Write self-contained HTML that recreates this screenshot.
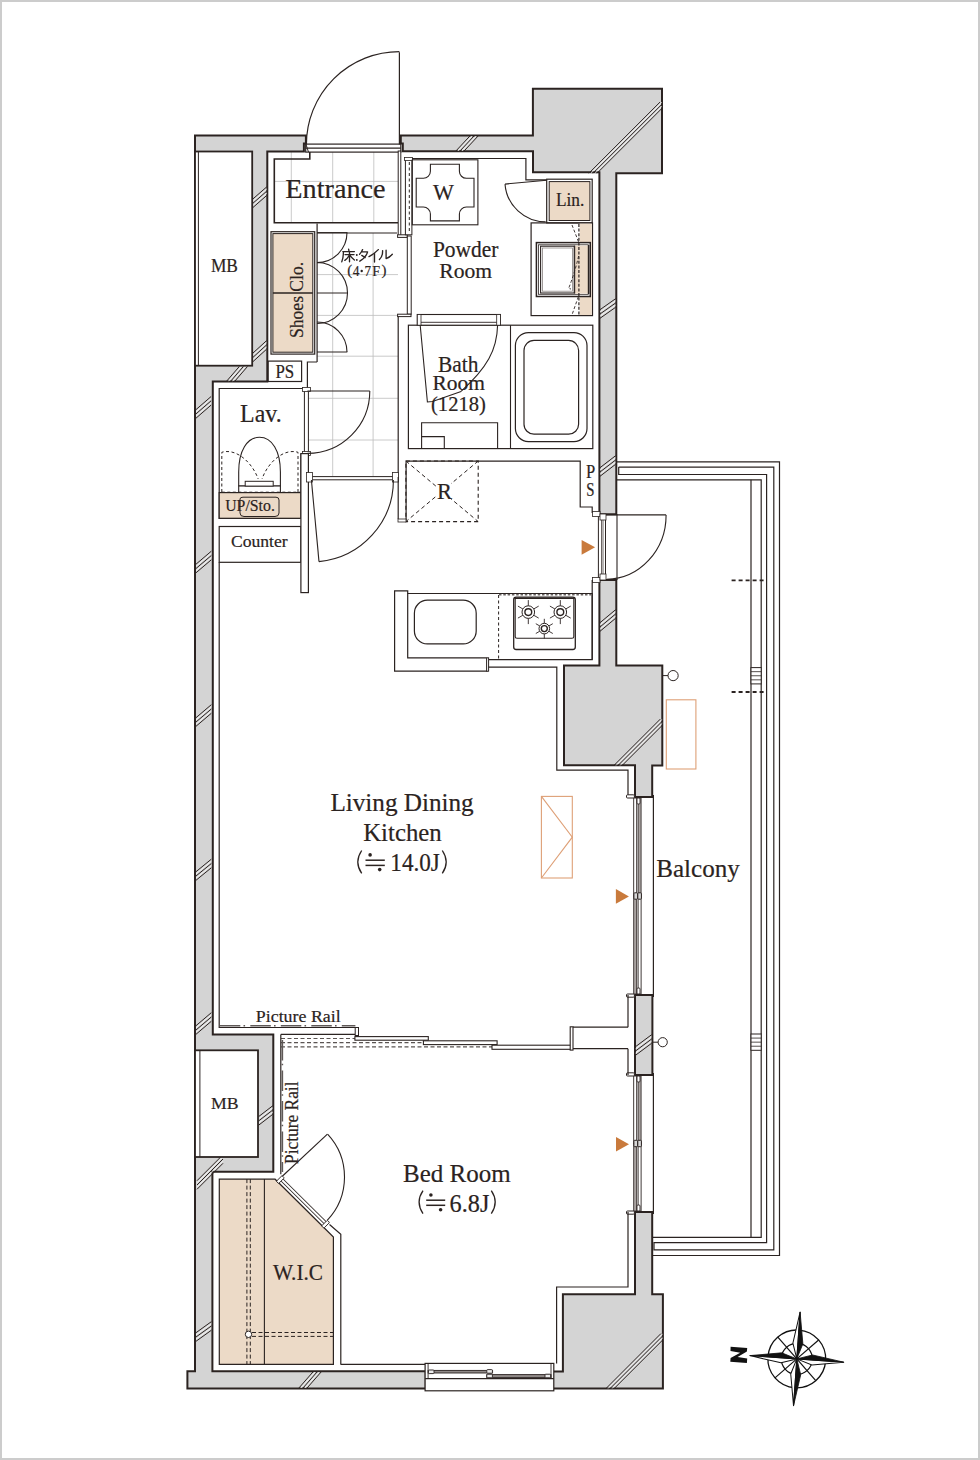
<!DOCTYPE html>
<html><head><meta charset="utf-8"><style>
html,body{margin:0;padding:0;background:#fff;}
body{width:980px;height:1460px;overflow:hidden;position:relative;font-family:"Liberation Serif",serif;}
svg{position:absolute;left:0;top:0;display:block;}
</style></head><body>
<svg width="980" height="1460" viewBox="0 0 980 1460">
<rect x="0" y="0" width="980" height="1460" fill="#ffffff"/>
<line x1="291.3" y1="152" x2="291.3" y2="222.8" stroke="#bdbdbd" stroke-width="0.8" />
<line x1="332.7" y1="152" x2="332.7" y2="222.8" stroke="#bdbdbd" stroke-width="0.8" />
<line x1="373.8" y1="152" x2="373.8" y2="222.8" stroke="#bdbdbd" stroke-width="0.8" />
<line x1="274" y1="181.4" x2="398" y2="181.4" stroke="#bdbdbd" stroke-width="0.8" />
<line x1="332.7" y1="233" x2="332.7" y2="477" stroke="#bdbdbd" stroke-width="0.8" />
<line x1="373.1" y1="233" x2="373.1" y2="477" stroke="#bdbdbd" stroke-width="0.8" />
<line x1="317" y1="274.6" x2="398" y2="274.6" stroke="#bdbdbd" stroke-width="0.8" />
<line x1="317" y1="315.4" x2="398" y2="315.4" stroke="#bdbdbd" stroke-width="0.8" />
<line x1="317" y1="356.2" x2="398" y2="356.2" stroke="#bdbdbd" stroke-width="0.8" />
<line x1="308" y1="398.3" x2="398" y2="398.3" stroke="#bdbdbd" stroke-width="0.8" />
<line x1="308" y1="440" x2="398" y2="440" stroke="#bdbdbd" stroke-width="0.8" />
<path d="M195,135.5 H305.9 V143.5 H303.9 V151.5 H267.3 V381.6 H212.8 V1034.5 H273.3 V1171.8 H212.4 V1371.2 H425.7 V1388.6 H187.4 V1371.2 H195 Z" fill="#d4d4d4" stroke="#2b2321" stroke-width="2.0" stroke-linejoin="miter"/>
<path d="M400.8,135.5 H532.9 V88.8 H662 V173.2 H616.3 V514.3 H599.4 V172.2 H533 V151.3 H402.8 V143.5 H400.8 Z" fill="#d4d4d4" stroke="#2b2321" stroke-width="2.0" stroke-linejoin="miter"/>
<path d="M599.4,580 H616.3 V665.5 H662.3 V765.5 H652.2 V797 H635 V765.2 H564 V665.5 H599.4 Z" fill="#d4d4d4" stroke="#2b2321" stroke-width="2.0" stroke-linejoin="miter"/>
<path d="M635,995 H652.4 V1075 H635 Z" fill="#d4d4d4" stroke="#2b2321" stroke-width="2.0" stroke-linejoin="miter"/>
<path d="M635,1212 H652.2 V1294.3 H662.9 V1388.6 H552.9 V1371.4 H562.9 V1294.3 H635 Z" fill="#d4d4d4" stroke="#2b2321" stroke-width="2.0" stroke-linejoin="miter"/>
<line x1="252.4" y1="199.4" x2="266.8" y2="186.8" stroke="#2b2321" stroke-width="1.0" />
<line x1="252.4" y1="203.7" x2="266.8" y2="191.1" stroke="#2b2321" stroke-width="1.0" />
<line x1="252.4" y1="208" x2="266.8" y2="195.4" stroke="#2b2321" stroke-width="1.0" />
<line x1="252.4" y1="201.55" x2="266.8" y2="188.95" stroke="#ffffff" stroke-width="0.7" />
<line x1="252.4" y1="205.85" x2="266.8" y2="193.25" stroke="#ffffff" stroke-width="0.7" />
<line x1="226.6" y1="381.2" x2="239.3" y2="366.5" stroke="#2b2321" stroke-width="1.0" />
<line x1="230.7" y1="381.2" x2="243.4" y2="366.5" stroke="#2b2321" stroke-width="1.0" />
<line x1="234.8" y1="381.2" x2="247.5" y2="366.5" stroke="#2b2321" stroke-width="1.0" />
<line x1="228.65" y1="381.2" x2="241.35" y2="366.5" stroke="#ffffff" stroke-width="0.7" />
<line x1="232.75" y1="381.2" x2="245.45" y2="366.5" stroke="#ffffff" stroke-width="0.7" />
<line x1="196" y1="409.6" x2="211.1" y2="396.5" stroke="#2b2321" stroke-width="1.0" />
<line x1="196" y1="413.9" x2="211.1" y2="400.8" stroke="#2b2321" stroke-width="1.0" />
<line x1="196" y1="418.2" x2="211.1" y2="405.1" stroke="#2b2321" stroke-width="1.0" />
<line x1="196" y1="411.75" x2="211.1" y2="398.65" stroke="#ffffff" stroke-width="0.7" />
<line x1="196" y1="416.05" x2="211.1" y2="402.95" stroke="#ffffff" stroke-width="0.7" />
<line x1="196" y1="564.2" x2="211.3" y2="551.2" stroke="#2b2321" stroke-width="1.0" />
<line x1="196" y1="568.5" x2="211.3" y2="555.5" stroke="#2b2321" stroke-width="1.0" />
<line x1="196" y1="572.8" x2="211.3" y2="559.8" stroke="#2b2321" stroke-width="1.0" />
<line x1="196" y1="566.35" x2="211.3" y2="553.35" stroke="#ffffff" stroke-width="0.7" />
<line x1="196" y1="570.65" x2="211.3" y2="557.65" stroke="#ffffff" stroke-width="0.7" />
<line x1="196" y1="717.7" x2="211.3" y2="704.7" stroke="#2b2321" stroke-width="1.0" />
<line x1="196" y1="722" x2="211.3" y2="709" stroke="#2b2321" stroke-width="1.0" />
<line x1="196" y1="726.3" x2="211.3" y2="713.3" stroke="#2b2321" stroke-width="1.0" />
<line x1="196" y1="719.85" x2="211.3" y2="706.85" stroke="#ffffff" stroke-width="0.7" />
<line x1="196" y1="724.15" x2="211.3" y2="711.15" stroke="#ffffff" stroke-width="0.7" />
<line x1="196" y1="1025.7" x2="211.3" y2="1012.7" stroke="#2b2321" stroke-width="1.0" />
<line x1="196" y1="1030" x2="211.3" y2="1017" stroke="#2b2321" stroke-width="1.0" />
<line x1="196" y1="1034.3" x2="211.3" y2="1021.3" stroke="#2b2321" stroke-width="1.0" />
<line x1="196" y1="1027.85" x2="211.3" y2="1014.85" stroke="#ffffff" stroke-width="0.7" />
<line x1="196" y1="1032.15" x2="211.3" y2="1019.15" stroke="#ffffff" stroke-width="0.7" />
<line x1="196" y1="871.7" x2="211.3" y2="859.2" stroke="#2b2321" stroke-width="1.0" />
<line x1="196" y1="876" x2="211.3" y2="863.5" stroke="#2b2321" stroke-width="1.0" />
<line x1="196" y1="880.3" x2="211.3" y2="867.8" stroke="#2b2321" stroke-width="1.0" />
<line x1="196" y1="873.85" x2="211.3" y2="861.35" stroke="#ffffff" stroke-width="0.7" />
<line x1="196" y1="878.15" x2="211.3" y2="865.65" stroke="#ffffff" stroke-width="0.7" />
<line x1="252.7" y1="353.3" x2="266.6" y2="340.6" stroke="#2b2321" stroke-width="1.0" />
<line x1="252.7" y1="357.6" x2="266.6" y2="344.9" stroke="#2b2321" stroke-width="1.0" />
<line x1="252.7" y1="361.9" x2="266.6" y2="349.2" stroke="#2b2321" stroke-width="1.0" />
<line x1="252.7" y1="355.45" x2="266.6" y2="342.75" stroke="#ffffff" stroke-width="0.7" />
<line x1="252.7" y1="359.75" x2="266.6" y2="347.05" stroke="#ffffff" stroke-width="0.7" />
<line x1="258.5" y1="1116.7" x2="272.8" y2="1105.7" stroke="#2b2321" stroke-width="1.0" />
<line x1="258.5" y1="1121" x2="272.8" y2="1110" stroke="#2b2321" stroke-width="1.0" />
<line x1="258.5" y1="1125.3" x2="272.8" y2="1114.3" stroke="#2b2321" stroke-width="1.0" />
<line x1="258.5" y1="1118.85" x2="272.8" y2="1107.85" stroke="#ffffff" stroke-width="0.7" />
<line x1="258.5" y1="1123.15" x2="272.8" y2="1112.15" stroke="#ffffff" stroke-width="0.7" />
<line x1="197" y1="1180.7" x2="223" y2="1154.7" stroke="#2b2321" stroke-width="1.0" />
<line x1="197" y1="1185" x2="223" y2="1159" stroke="#2b2321" stroke-width="1.0" />
<line x1="197" y1="1189.3" x2="223" y2="1163.3" stroke="#2b2321" stroke-width="1.0" />
<line x1="197" y1="1182.85" x2="223" y2="1156.85" stroke="#ffffff" stroke-width="0.7" />
<line x1="197" y1="1187.15" x2="223" y2="1161.15" stroke="#ffffff" stroke-width="0.7" />
<line x1="196" y1="1332.7" x2="211.3" y2="1321.7" stroke="#2b2321" stroke-width="1.0" />
<line x1="196" y1="1337" x2="211.3" y2="1326" stroke="#2b2321" stroke-width="1.0" />
<line x1="196" y1="1341.3" x2="211.3" y2="1330.3" stroke="#2b2321" stroke-width="1.0" />
<line x1="196" y1="1334.85" x2="211.3" y2="1323.85" stroke="#ffffff" stroke-width="0.7" />
<line x1="196" y1="1339.15" x2="211.3" y2="1328.15" stroke="#ffffff" stroke-width="0.7" />
<line x1="298.9" y1="1388" x2="312.9" y2="1372" stroke="#2b2321" stroke-width="1.0" />
<line x1="303" y1="1388" x2="317" y2="1372" stroke="#2b2321" stroke-width="1.0" />
<line x1="307.1" y1="1388" x2="321.1" y2="1372" stroke="#2b2321" stroke-width="1.0" />
<line x1="300.95" y1="1388" x2="314.95" y2="1372" stroke="#ffffff" stroke-width="0.7" />
<line x1="305.05" y1="1388" x2="319.05" y2="1372" stroke="#ffffff" stroke-width="0.7" />
<line x1="455.9" y1="151" x2="469.9" y2="136" stroke="#2b2321" stroke-width="1.0" />
<line x1="460" y1="151" x2="474" y2="136" stroke="#2b2321" stroke-width="1.0" />
<line x1="464.1" y1="151" x2="478.1" y2="136" stroke="#2b2321" stroke-width="1.0" />
<line x1="457.95" y1="151" x2="471.95" y2="136" stroke="#ffffff" stroke-width="0.7" />
<line x1="462.05" y1="151" x2="476.05" y2="136" stroke="#ffffff" stroke-width="0.7" />
<clipPath id="hc1"><rect x="533" y="88.8" width="129" height="84.4"/></clipPath><g clip-path="url(#hc1)">
<line x1="587.78" y1="174.32" x2="660.02" y2="102.08" stroke="#2b2321" stroke-width="1.0" />
<line x1="591.88" y1="174.32" x2="664.12" y2="102.08" stroke="#2b2321" stroke-width="1.0" />
<line x1="595.98" y1="174.32" x2="668.22" y2="102.08" stroke="#2b2321" stroke-width="1.0" />
<line x1="589.83" y1="174.32" x2="662.07" y2="102.08" stroke="#ffffff" stroke-width="0.7" />
<line x1="593.93" y1="174.32" x2="666.17" y2="102.08" stroke="#ffffff" stroke-width="0.7" />
</g>
<line x1="600" y1="309.7" x2="615.6" y2="298.7" stroke="#2b2321" stroke-width="1.0" />
<line x1="600" y1="314" x2="615.6" y2="303" stroke="#2b2321" stroke-width="1.0" />
<line x1="600" y1="318.3" x2="615.6" y2="307.3" stroke="#2b2321" stroke-width="1.0" />
<line x1="600" y1="311.85" x2="615.6" y2="300.85" stroke="#ffffff" stroke-width="0.7" />
<line x1="600" y1="316.15" x2="615.6" y2="305.15" stroke="#ffffff" stroke-width="0.7" />
<line x1="600" y1="467.7" x2="615.6" y2="455.7" stroke="#2b2321" stroke-width="1.0" />
<line x1="600" y1="472" x2="615.6" y2="460" stroke="#2b2321" stroke-width="1.0" />
<line x1="600" y1="476.3" x2="615.6" y2="464.3" stroke="#2b2321" stroke-width="1.0" />
<line x1="600" y1="469.85" x2="615.6" y2="457.85" stroke="#ffffff" stroke-width="0.7" />
<line x1="600" y1="474.15" x2="615.6" y2="462.15" stroke="#ffffff" stroke-width="0.7" />
<line x1="600" y1="622.7" x2="615.6" y2="609.7" stroke="#2b2321" stroke-width="1.0" />
<line x1="600" y1="627" x2="615.6" y2="614" stroke="#2b2321" stroke-width="1.0" />
<line x1="600" y1="631.3" x2="615.6" y2="618.3" stroke="#2b2321" stroke-width="1.0" />
<line x1="600" y1="624.85" x2="615.6" y2="611.85" stroke="#ffffff" stroke-width="0.7" />
<line x1="600" y1="629.15" x2="615.6" y2="616.15" stroke="#ffffff" stroke-width="0.7" />
<clipPath id="hc2"><rect x="564" y="665.5" width="98.3" height="100"/></clipPath><g clip-path="url(#hc2)">
<line x1="611.78" y1="767.62" x2="660.32" y2="719.08" stroke="#2b2321" stroke-width="1.0" />
<line x1="615.88" y1="767.62" x2="664.42" y2="719.08" stroke="#2b2321" stroke-width="1.0" />
<line x1="619.98" y1="767.62" x2="668.52" y2="719.08" stroke="#2b2321" stroke-width="1.0" />
<line x1="613.83" y1="767.62" x2="662.37" y2="719.08" stroke="#ffffff" stroke-width="0.7" />
<line x1="617.93" y1="767.62" x2="666.47" y2="719.08" stroke="#ffffff" stroke-width="0.7" />
</g>
<line x1="635.5" y1="1046.7" x2="651.6" y2="1034.7" stroke="#2b2321" stroke-width="1.0" />
<line x1="635.5" y1="1051" x2="651.6" y2="1039" stroke="#2b2321" stroke-width="1.0" />
<line x1="635.5" y1="1055.3" x2="651.6" y2="1043.3" stroke="#2b2321" stroke-width="1.0" />
<line x1="635.5" y1="1048.85" x2="651.6" y2="1036.85" stroke="#ffffff" stroke-width="0.7" />
<line x1="635.5" y1="1053.15" x2="651.6" y2="1041.15" stroke="#ffffff" stroke-width="0.7" />
<clipPath id="hc3"><rect x="562.9" y="1294.3" width="100" height="94.3"/></clipPath><g clip-path="url(#hc3)">
<line x1="603.78" y1="1390.72" x2="660.92" y2="1333.58" stroke="#2b2321" stroke-width="1.0" />
<line x1="607.88" y1="1390.72" x2="665.02" y2="1333.58" stroke="#2b2321" stroke-width="1.0" />
<line x1="611.98" y1="1390.72" x2="669.12" y2="1333.58" stroke="#2b2321" stroke-width="1.0" />
<line x1="605.83" y1="1390.72" x2="662.97" y2="1333.58" stroke="#ffffff" stroke-width="0.7" />
<line x1="609.93" y1="1390.72" x2="667.07" y2="1333.58" stroke="#ffffff" stroke-width="0.7" />
</g>
<rect x="195" y="151.5" width="57.2" height="214.2" rx="0" fill="#ffffff" stroke="#2b2321" stroke-width="1.8" />
<line x1="198.4" y1="151.5" x2="198.4" y2="365.7" stroke="#2b2321" stroke-width="1" />
<rect x="195" y="1050.3" width="63" height="106.7" rx="0" fill="#ffffff" stroke="#2b2321" stroke-width="1.8" />
<line x1="199.9" y1="1050.3" x2="199.9" y2="1157" stroke="#2b2321" stroke-width="1" />
<text transform="translate(210.9,271.9) scale(0.9557,1)" font-size="18.17" font-family="Liberation Serif" fill="#2b2321" stroke="#2b2321" stroke-width="0.2">MB</text>
<text transform="translate(211,1108.8) scale(1.0022,1)" font-size="17.71" font-family="Liberation Serif" fill="#2b2321" stroke="#2b2321" stroke-width="0.2">MB</text>
<rect x="305.7" y="144.1" width="95.1" height="8" rx="0" fill="#ffffff" stroke="#2b2321" stroke-width="1.2" />
<line x1="305.7" y1="148.1" x2="400.8" y2="148.1" stroke="#2b2321" stroke-width="1.2" />
<line x1="305.9" y1="144.1" x2="308.5" y2="152.1" stroke="#2b2321" stroke-width="1" />
<line x1="399.4" y1="52.2" x2="399.4" y2="144.6" stroke="#2b2321" stroke-width="1.2" />
<path d="M306.4,144.6 A93,93 0 0 1 399.4,51.6" fill="none" stroke="#2b2321" stroke-width="1.2" />
<polyline points="309.8,152 309.8,159 274.3,159 274.3,222.8 398.1,222.8" fill="none" stroke="#2b2321" stroke-width="1.6" stroke-linejoin="miter" />
<text transform="translate(285.3,197.7) scale(1.0061,1)" font-size="28.09" font-family="Liberation Serif" fill="#2b2321" stroke="#2b2321" stroke-width="0.2">Entrance</text>
<rect x="398.2" y="151" width="2.6" height="85.1" rx="0" fill="#ffffff" stroke="#2b2321" stroke-width="1" />
<rect x="397.6" y="234.8" width="9.7" height="2.6" rx="0" fill="#ffffff" stroke="#2b2321" stroke-width="1" />
<rect x="405.4" y="158.7" width="6.5" height="76.1" rx="0" fill="#ffffff" stroke="#2b2321" stroke-width="1" />
<line x1="409.3" y1="162" x2="409.3" y2="232" stroke="#2b2321" stroke-width="1" stroke-dasharray="3,2.5"/>
<rect x="404.5" y="157.5" width="8" height="3" rx="0" fill="#ffffff" stroke="#2b2321" stroke-width="0.8" />
<rect x="407.3" y="236" width="3.9" height="78.2" rx="0" fill="#ffffff" stroke="#2b2321" stroke-width="1" />
<rect x="397.6" y="314.2" width="13.4" height="2.4" rx="0" fill="#ffffff" stroke="#2b2321" stroke-width="1" />
<line x1="398.2" y1="316.6" x2="398.2" y2="477" stroke="#2b2321" stroke-width="1.2" />
<line x1="317.1" y1="223.5" x2="317.1" y2="362" stroke="#2b2321" stroke-width="1.2" />
<polyline points="317.1,362 307.4,362 307.4,391" fill="none" stroke="#2b2321" stroke-width="1.2" stroke-linejoin="miter" />
<line x1="317.1" y1="233" x2="397.1" y2="233" stroke="#2b2321" stroke-width="1.2" />
<rect x="271" y="231.7" width="43.7" height="122.4" rx="0" fill="#ffffff" stroke="#2b2321" stroke-width="1.2" />
<rect x="272.9" y="233.6" width="39.9" height="118.6" rx="0" fill="#ecdac7" stroke="#2b2321" stroke-width="1" />
<line x1="272.9" y1="293" x2="312.8" y2="293" stroke="#2b2321" stroke-width="1.6" />
<text transform="translate(303.2,338) rotate(-90) translate(0,0) scale(0.9185,1)" font-size="19.14" font-family="Liberation Serif" fill="#2b2321" stroke="#2b2321" stroke-width="0.2">Shoes Clo.</text>
<line x1="317" y1="232.6" x2="347.3" y2="232.6" stroke="#2b2321" stroke-width="1" />
<path d="M347,232.6 A30,30 0 0 1 317,262.6" fill="none" stroke="#2b2321" stroke-width="1.1" />
<path d="M317,262.5 A30.5,30.5 0 0 1 317,323.5" fill="none" stroke="#2b2321" stroke-width="1.1" />
<line x1="317" y1="293" x2="347.3" y2="293" stroke="#2b2321" stroke-width="1" />
<path d="M317,322 A30,30 0 0 1 347,352" fill="none" stroke="#2b2321" stroke-width="1.1" />
<line x1="317" y1="352" x2="347.3" y2="352" stroke="#2b2321" stroke-width="1" />
<rect x="268.2" y="361.1" width="33.4" height="20.4" rx="0" fill="#ffffff" stroke="#2b2321" stroke-width="1.2" />
<text transform="translate(275.4,377.8) scale(0.9224,1)" font-size="18.32" font-family="Liberation Serif" fill="#2b2321" stroke="#2b2321" stroke-width="0.2">PS</text>
<polyline points="300.9,453.6 300.9,518.3 219.2,518.3 219.2,388.5 308.4,388.5" fill="none" stroke="#2b2321" stroke-width="1.2" stroke-linejoin="miter" />
<text transform="translate(240.1,421.7) scale(0.9266,1)" font-size="25.80" font-family="Liberation Serif" fill="#2b2321" stroke="#2b2321" stroke-width="0.2">Lav.</text>
<rect x="304.4" y="389" width="4" height="64.6" rx="0" fill="#ffffff" stroke="#2b2321" stroke-width="1" />
<rect x="302.5" y="387.5" width="8" height="4" rx="0" fill="#ffffff" stroke="#2b2321" stroke-width="0.8" />
<rect x="302.5" y="451.5" width="8" height="4" rx="0" fill="#ffffff" stroke="#2b2321" stroke-width="0.8" />
<line x1="307.4" y1="391" x2="369.8" y2="391" stroke="#2b2321" stroke-width="1.1" />
<path d="M369.8,391 A62.4,62.4 0 0 1 307.4,453.4" fill="none" stroke="#2b2321" stroke-width="1.1" />
<path d="M238.7,486 L238.7,472 C238.7,451 247,437.3 259.5,437.3 C272,437.3 280.4,451 280.4,472 L280.4,486 Z" fill="#ffffff" stroke="#2b2321" stroke-width="1.1" />
<rect x="238.7" y="486" width="41.7" height="7.2" rx="0" fill="#ffffff" stroke="#2b2321" stroke-width="1.1" />
<rect x="242.5" y="493.2" width="34" height="2.8" rx="1" fill="#ecdac7" stroke="#2b2321" stroke-width="0.9" />
<rect x="245.2" y="481.3" width="28" height="4.8" rx="0" fill="#ffffff" stroke="#2b2321" stroke-width="1" />
<path d="M221.8,492 L221.8,452.3 C236,448 252,462 258.2,479" fill="none" stroke="#2b2321" stroke-width="1" stroke-dasharray="3,2.5"/>
<path d="M298,492 L298,452.3 C284,448 268,462 262,479" fill="none" stroke="#2b2321" stroke-width="1" stroke-dasharray="3,2.5"/>
<line x1="221.8" y1="492.2" x2="300.9" y2="492.2" stroke="#2b2321" stroke-width="1" stroke-dasharray="3,2.5"/>
<rect x="219.2" y="492.6" width="81.7" height="25.7" rx="0" fill="#ecdac7" stroke="#2b2321" stroke-width="1.2" />
<path d="M240,499 Q240,497.2 243,497.2 L276,497.2 Q279,497.2 279,500 L279,513 Q279,516.5 275,516.5 L244,516.5 Q240,516.5 240,513 Z" fill="none" stroke="#2b2321" stroke-width="1" />
<text transform="translate(225.2,510.8) scale(0.9094,1)" font-size="17.40" font-family="Liberation Serif" fill="#2b2321" stroke="#2b2321" stroke-width="0.2">UP/Sto.</text>
<rect x="219.2" y="526.5" width="81.7" height="35.8" rx="0" fill="none" stroke="#2b2321" stroke-width="1.2" />
<text transform="translate(230.9,546.5) scale(1.0127,1)" font-size="17.40" font-family="Liberation Serif" fill="#2b2321" stroke="#2b2321" stroke-width="0.2">Counter</text>
<rect x="300.9" y="453.6" width="7.5" height="139" rx="0" fill="#ffffff" stroke="#2b2321" stroke-width="1.2" />
<rect x="309.8" y="476.6" width="84.9" height="3.2" rx="0" fill="#ffffff" stroke="#2b2321" stroke-width="1" />
<rect x="306.5" y="472.5" width="6" height="9.5" rx="0" fill="#ffffff" stroke="#2b2321" stroke-width="0.8" />
<rect x="392.5" y="472.5" width="6" height="9.5" rx="0" fill="#ffffff" stroke="#2b2321" stroke-width="0.8" />
<line x1="311.4" y1="480" x2="319" y2="561.6" stroke="#2b2321" stroke-width="1.1" />
<path d="M318.97,561.65 A82,82 0 0 0 393.4,480" fill="none" stroke="#2b2321" stroke-width="1.1" />
<line x1="219.2" y1="562.3" x2="219.2" y2="1028" stroke="#2b2321" stroke-width="1.2" />
<polyline points="412,158.5 525.9,158.5 525.9,179.8 546.7,179.8" fill="none" stroke="#2b2321" stroke-width="1.2" stroke-linejoin="miter" />
<rect x="412.3" y="159.8" width="65.6" height="65" rx="0" fill="none" stroke="#2b2321" stroke-width="1.1" />
<path d="M423,178.3 A7,7 0 0 0 430.4,171.3 L430.4,164.3 L459.4,164.3 L459.4,171.3 A7,7 0 0 0 466.4,178.3 L474,178.3 L474,207 L466.4,207 A7,7 0 0 0 459.4,214 L459.4,220.9 L430.4,220.9 L430.4,214 A7,7 0 0 0 423.4,207 L416.2,207 L416.2,178.3 Z" fill="none" stroke="#2b2321" stroke-width="1.1" />
<text transform="translate(432.9,199.8) scale(0.9722,1)" font-size="22.75" font-family="Liberation Serif" fill="#2b2321" stroke="#2b2321" stroke-width="0.2">W</text>
<text transform="translate(432.9,256.6) scale(0.9568,1)" font-size="22.44" font-family="Liberation Serif" fill="#2b2321" stroke="#2b2321" stroke-width="0.2">Powder</text>
<text transform="translate(439.3,277.8) scale(1.0556,1)" font-size="20.46" font-family="Liberation Serif" fill="#2b2321" stroke="#2b2321" stroke-width="0.2">Room</text>
<line x1="546.7" y1="180.2" x2="505" y2="184.1" stroke="#2b2321" stroke-width="1.1" />
<path d="M505,184.1 A41,41 0 0 0 545.7,221.9" fill="none" stroke="#2b2321" stroke-width="1.1" />
<rect x="546.7" y="179.2" width="45.5" height="43.7" rx="0" fill="#ffffff" stroke="#2b2321" stroke-width="1.2" />
<rect x="549.2" y="181.6" width="40.7" height="38.9" rx="0" fill="#ecdac7" stroke="#2b2321" stroke-width="1" />
<text transform="translate(555.9,205.8) scale(0.9433,1)" font-size="18.32" font-family="Liberation Serif" fill="#2b2321" stroke="#2b2321" stroke-width="0.2">Lin.</text>
<rect x="531.1" y="222.9" width="61.4" height="92.7" rx="0" fill="none" stroke="#2b2321" stroke-width="1.2" />
<rect x="579.7" y="223.6" width="12.1" height="91.4" rx="0" fill="#ecdac7" stroke="#2b2321" stroke-width="0" />
<rect x="536.4" y="242.6" width="53.9" height="53.9" rx="0" fill="#ffffff" stroke="#2b2321" stroke-width="1.5" />
<rect x="538.6" y="244.8" width="49.7" height="49.5" rx="0" fill="none" stroke="#2b2321" stroke-width="0.8" />
<rect x="574.7" y="245.6" width="13.6" height="48" rx="0" fill="#ecdac7" stroke="#2b2321" stroke-width="0" />
<rect x="540.6" y="246.2" width="33.6" height="46.8" rx="0" fill="none" stroke="#2b2321" stroke-width="1.1" />
<rect x="542.4" y="248" width="30" height="43.2" rx="0" fill="none" stroke="#8a8482" stroke-width="0.8" />
<line x1="574.7" y1="245.6" x2="574.7" y2="293.6" stroke="#2b2321" stroke-width="1.0" />
<line x1="588.6" y1="245" x2="588.6" y2="294" stroke="#2b2321" stroke-width="1.6" />
<path d="M572,225 L578.6,242 M578.6,256 Q575,272 568.6,288.5 L571,289 M572.4,313.7 L578.6,296" fill="none" stroke="#2b2321" stroke-width="0.9" stroke-dasharray="3,2"/>
<line x1="578.9" y1="224" x2="578.9" y2="315" stroke="#2b2321" stroke-width="1.2" stroke-dasharray="3,1.6"/>
<rect x="408.4" y="325.2" width="184.4" height="123.4" rx="0" fill="none" stroke="#2b2321" stroke-width="1.2" />
<line x1="510.5" y1="325.2" x2="510.5" y2="448.6" stroke="#2b2321" stroke-width="1.1" />
<rect x="417.3" y="314.5" width="83.1" height="10.7" rx="0" fill="#ffffff" stroke="#2b2321" stroke-width="1.1" />
<line x1="417.3" y1="322.3" x2="500.4" y2="322.3" stroke="#2b2321" stroke-width="0.9" />
<rect x="417.3" y="314.5" width="3.7" height="10.7" rx="0" fill="#ffffff" stroke="#2b2321" stroke-width="0.8" />
<rect x="496.7" y="314.5" width="3.7" height="10.7" rx="0" fill="#ffffff" stroke="#2b2321" stroke-width="0.8" />
<path d="M420.2,325.2 L427.4,402 L432.5,401.5 L461.1,391.4" fill="none" stroke="#2b2321" stroke-width="1.1" />
<path d="M497.6,325.2 C497,350 487,368 461.1,391.4" fill="none" stroke="#2b2321" stroke-width="1.1" />
<rect x="515.4" y="332.6" width="71.6" height="109" rx="13" fill="none" stroke="#2b2321" stroke-width="1.2" />
<rect x="524" y="340.4" width="54.6" height="93.8" rx="10" fill="none" stroke="#2b2321" stroke-width="1.2" />
<text transform="translate(438.1,371.9) scale(0.9473,1)" font-size="22.60" font-family="Liberation Serif" fill="#2b2321" stroke="#2b2321" stroke-width="0.2">Bath</text>
<text transform="translate(432.4,389.7) scale(1.0736,1)" font-size="20.00" font-family="Liberation Serif" fill="#2b2321" stroke="#2b2321" stroke-width="0.2">Room</text>
<text transform="translate(431,410.6) scale(0.9570,1)" font-size="21.53" font-family="Liberation Serif" fill="#2b2321" stroke="#2b2321" stroke-width="0.2">(1218)</text>
<polyline points="421.6,448.6 421.6,422.8 497.6,422.8 497.6,448.6" fill="none" stroke="#2b2321" stroke-width="1.1" stroke-linejoin="miter" />
<polyline points="421.6,436.6 444.3,436.6 444.3,448.6" fill="none" stroke="#2b2321" stroke-width="1.1" stroke-linejoin="miter" />
<polyline points="406.1,520 406.1,461.2 580.2,461.2 580.2,507 592.2,507 592.2,512.5 599.4,512.5" fill="none" stroke="#2b2321" stroke-width="1.2" stroke-linejoin="miter" />
<rect x="405.9" y="461" width="72.3" height="60.6" rx="0" fill="none" stroke="#2b2321" stroke-width="1.1" stroke-dasharray="4,3"/>
<line x1="405.9" y1="461" x2="478.2" y2="521.6" stroke="#2b2321" stroke-width="1" stroke-dasharray="4,3"/>
<line x1="478.2" y1="461" x2="405.9" y2="521.6" stroke="#2b2321" stroke-width="1" stroke-dasharray="4,3"/>
<rect x="437" y="480" width="14" height="18" fill="#ffffff"/>
<text transform="translate(436.9,498.7) scale(1.0013,1)" font-size="22.44" font-family="Liberation Serif" fill="#2b2321" stroke="#2b2321" stroke-width="0.2">R</text>
<text transform="translate(585.9,477.8) scale(0.9201,1)" font-size="18.02" font-family="Liberation Serif" fill="#2b2321" stroke="#2b2321" stroke-width="0.2">P</text>
<text transform="translate(586.2,495.8) scale(0.8271,1)" font-size="17.86" font-family="Liberation Serif" fill="#2b2321" stroke="#2b2321" stroke-width="0.2">S</text>
<rect x="398" y="519" width="8" height="3" rx="0" fill="#ffffff" stroke="#2b2321" stroke-width="0.8" />
<line x1="398.2" y1="477" x2="398.2" y2="519" stroke="#2b2321" stroke-width="1.2" />
<line x1="598.4" y1="514" x2="598.4" y2="580" stroke="#2b2321" stroke-width="1" />
<line x1="605.5" y1="514" x2="605.5" y2="580" stroke="#2b2321" stroke-width="1" />
<line x1="601.5" y1="520" x2="601.5" y2="574" stroke="#2b2321" stroke-width="0.7" />
<line x1="603" y1="520" x2="603" y2="574" stroke="#2b2321" stroke-width="0.7" />
<rect x="592.5" y="511.5" width="7.5" height="5" rx="0" fill="#ffffff" stroke="#2b2321" stroke-width="0.8" />
<rect x="592.5" y="577.5" width="7.5" height="5" rx="0" fill="#ffffff" stroke="#2b2321" stroke-width="0.8" />
<rect x="600" y="514" width="6" height="6" rx="0" fill="#ffffff" stroke="#2b2321" stroke-width="0.8" />
<rect x="600" y="574" width="6" height="6" rx="0" fill="#ffffff" stroke="#2b2321" stroke-width="0.8" />
<line x1="617" y1="514.3" x2="617" y2="580" stroke="#2b2321" stroke-width="1.1" />
<line x1="606" y1="514.9" x2="666.1" y2="514.9" stroke="#2b2321" stroke-width="1.1" />
<path d="M666.1,514.9 A60,64.3 0 0 1 606.7,579.2" fill="none" stroke="#2b2321" stroke-width="1.1" />
<polygon points="581.6,540 595.1,547.3 581.6,554.7" fill="#c97a3c"/>
<polyline points="487.6,671.2 394.6,671.2 394.6,590.8 407.7,590.8 407.7,593.5 592.2,593.5 592.2,659.7 488.5,659.7" fill="none" stroke="#2b2321" stroke-width="1.2" stroke-linejoin="miter" />
<polyline points="407.7,593.5 407.7,657.8 486.6,657.8" fill="none" stroke="#2b2321" stroke-width="1.2" stroke-linejoin="miter" />
<rect x="486.6" y="657.8" width="2" height="13.4" rx="0" fill="#ffffff" stroke="#2b2321" stroke-width="1" />
<line x1="592.2" y1="580" x2="592.2" y2="659.7" stroke="#2b2321" stroke-width="1.2" />
<rect x="414.4" y="600.2" width="61.8" height="43.7" rx="13" fill="none" stroke="#2b2321" stroke-width="1.2" />
<line x1="498.6" y1="595" x2="498.6" y2="659.7" stroke="#2b2321" stroke-width="1" stroke-dasharray="3,2.5"/>
<line x1="499" y1="594.8" x2="592" y2="594.8" stroke="#6a6462" stroke-width="1.6" stroke-dasharray="2.5,1.8"/>
<rect x="513.7" y="597.1" width="61.6" height="52.4" rx="2.5" fill="none" stroke="#2b2321" stroke-width="1.3" />
<path d="M515.2,597.8 L515.2,636.5 Q515.2,638.3 517,638.3 L572,638.3 Q573.8,638.3 573.8,636.5 L573.8,597.8" fill="none" stroke="#2b2321" stroke-width="1.1" />
<line x1="514.5" y1="598.2" x2="574.5" y2="598.2" stroke="#2b2321" stroke-width="1.6" />
<circle cx="528.3" cy="612.1" r="6.3" fill="none" stroke="#2b2321" stroke-width="1.0"/>
<circle cx="528.3" cy="612.1" r="3.4" fill="none" stroke="#2b2321" stroke-width="1.4"/>
<line x1="528.3" y1="618.4" x2="528.3" y2="624.1" stroke="#2b2321" stroke-width="0.9" />
<line x1="528.3" y1="605.8" x2="528.3" y2="600.1" stroke="#2b2321" stroke-width="0.9" />
<line x1="533.76" y1="615.25" x2="538.69" y2="618.1" stroke="#2b2321" stroke-width="0.9" />
<line x1="522.84" y1="615.25" x2="517.91" y2="618.1" stroke="#2b2321" stroke-width="0.9" />
<line x1="522.84" y1="608.95" x2="517.91" y2="606.1" stroke="#2b2321" stroke-width="0.9" />
<line x1="533.76" y1="608.95" x2="538.69" y2="606.1" stroke="#2b2321" stroke-width="0.9" />
<circle cx="560.3" cy="612.1" r="6.3" fill="none" stroke="#2b2321" stroke-width="1.0"/>
<circle cx="560.3" cy="612.1" r="3.4" fill="none" stroke="#2b2321" stroke-width="1.4"/>
<line x1="560.3" y1="618.4" x2="560.3" y2="624.1" stroke="#2b2321" stroke-width="0.9" />
<line x1="560.3" y1="605.8" x2="560.3" y2="600.1" stroke="#2b2321" stroke-width="0.9" />
<line x1="565.76" y1="615.25" x2="570.69" y2="618.1" stroke="#2b2321" stroke-width="0.9" />
<line x1="554.84" y1="615.25" x2="549.91" y2="618.1" stroke="#2b2321" stroke-width="0.9" />
<line x1="554.84" y1="608.95" x2="549.91" y2="606.1" stroke="#2b2321" stroke-width="0.9" />
<line x1="565.76" y1="608.95" x2="570.69" y2="606.1" stroke="#2b2321" stroke-width="0.9" />
<circle cx="544.3" cy="628.6" r="5.3" fill="none" stroke="#2b2321" stroke-width="1.0"/>
<circle cx="544.3" cy="628.6" r="3.0" fill="none" stroke="#2b2321" stroke-width="1.4"/>
<line x1="544.3" y1="633.9" x2="544.3" y2="638.4" stroke="#2b2321" stroke-width="0.9" />
<line x1="544.3" y1="623.3" x2="544.3" y2="618.8" stroke="#2b2321" stroke-width="0.9" />
<line x1="548.89" y1="631.25" x2="552.79" y2="633.5" stroke="#2b2321" stroke-width="0.9" />
<line x1="539.71" y1="631.25" x2="535.81" y2="633.5" stroke="#2b2321" stroke-width="0.9" />
<line x1="539.71" y1="625.95" x2="535.81" y2="623.7" stroke="#2b2321" stroke-width="0.9" />
<line x1="548.89" y1="625.95" x2="552.79" y2="623.7" stroke="#2b2321" stroke-width="0.9" />
<line x1="544.3" y1="638.4" x2="544.3" y2="638.3" stroke="#2b2321" stroke-width="0.9" />
<polyline points="488.6,667.2 556.8,667.2 556.8,770.2 628,770.2 628,795" fill="none" stroke="#2b2321" stroke-width="1.2" stroke-linejoin="miter" />
<line x1="662.3" y1="675.6" x2="668" y2="675.6" stroke="#2b2321" stroke-width="1" />
<circle cx="673.1" cy="675.6" r="5.1" fill="#ffffff" stroke="#2b2321" stroke-width="1"/>
<line x1="652.4" y1="1042.2" x2="658" y2="1042.2" stroke="#2b2321" stroke-width="1" />
<circle cx="662.7" cy="1042.2" r="4.6" fill="#ffffff" stroke="#2b2321" stroke-width="1"/>
<rect x="666.3" y="699.8" width="29.6" height="69.2" rx="0" fill="none" stroke="#dea077" stroke-width="1.1" />
<rect x="541.4" y="796.4" width="30.9" height="81.6" rx="0" fill="none" stroke="#dea077" stroke-width="1.1" />
<polyline points="541.4,796.4 572.3,837.2 541.4,878" fill="none" stroke="#dea077" stroke-width="1.1" stroke-linejoin="miter" />
<line x1="653.4" y1="795" x2="653.4" y2="997" stroke="#2b2321" stroke-width="1.2" />
<rect x="633.7" y="798" width="3" height="98" fill="#ffffff" stroke="#2b2321" stroke-width="0.9"/>
<rect x="633.7" y="896" width="3" height="98" fill="#a9a3a1" stroke="#2b2321" stroke-width="0.8"/>
<rect x="638.1" y="798" width="3" height="98" fill="#a9a3a1" stroke="#2b2321" stroke-width="0.8"/>
<rect x="638.1" y="896" width="3" height="98" fill="#ffffff" stroke="#2b2321" stroke-width="0.9"/>
<rect x="633.9" y="892.8" width="3.6" height="6.4" rx="0.8" fill="#d8d8d8" stroke="#2b2321" stroke-width="1" />
<rect x="637.8" y="892.8" width="3.6" height="6.4" rx="0.8" fill="#d8d8d8" stroke="#2b2321" stroke-width="1" />
<rect x="626.5" y="794.8" width="7.9" height="3.2" rx="1" fill="#ffffff" stroke="#2b2321" stroke-width="1" />
<rect x="626.5" y="994" width="7.9" height="3.2" rx="1" fill="#ffffff" stroke="#2b2321" stroke-width="1" />
<rect x="637" y="798" width="3" height="6" rx="1" fill="#ffffff" stroke="#2b2321" stroke-width="0.9" />
<rect x="637" y="988" width="3" height="6" rx="1" fill="#ffffff" stroke="#2b2321" stroke-width="0.9" />
<line x1="653.4" y1="1073" x2="653.4" y2="1214" stroke="#2b2321" stroke-width="1.2" />
<rect x="633.7" y="1076" width="3" height="67.5" fill="#ffffff" stroke="#2b2321" stroke-width="0.9"/>
<rect x="633.7" y="1143.5" width="3" height="67.5" fill="#a9a3a1" stroke="#2b2321" stroke-width="0.8"/>
<rect x="638.1" y="1076" width="3" height="67.5" fill="#a9a3a1" stroke="#2b2321" stroke-width="0.8"/>
<rect x="638.1" y="1143.5" width="3" height="67.5" fill="#ffffff" stroke="#2b2321" stroke-width="0.9"/>
<rect x="633.9" y="1140.3" width="3.6" height="6.4" rx="0.8" fill="#d8d8d8" stroke="#2b2321" stroke-width="1" />
<rect x="637.8" y="1140.3" width="3.6" height="6.4" rx="0.8" fill="#d8d8d8" stroke="#2b2321" stroke-width="1" />
<rect x="626.5" y="1072.8" width="7.9" height="3.2" rx="1" fill="#ffffff" stroke="#2b2321" stroke-width="1" />
<rect x="626.5" y="1211" width="7.9" height="3.2" rx="1" fill="#ffffff" stroke="#2b2321" stroke-width="1" />
<rect x="637" y="1076" width="3" height="6" rx="1" fill="#ffffff" stroke="#2b2321" stroke-width="0.9" />
<rect x="637" y="1205" width="3" height="6" rx="1" fill="#ffffff" stroke="#2b2321" stroke-width="0.9" />
<polygon points="615.9,889 628.9,896.4 615.9,903.8" fill="#c97a3c"/>
<polygon points="616,1137 629,1144.3 616,1151.6" fill="#c97a3c"/>
<line x1="628" y1="995" x2="628" y2="1027.2" stroke="#2b2321" stroke-width="1.2" />
<line x1="628" y1="1048.7" x2="628" y2="1075" stroke="#2b2321" stroke-width="1.2" />
<polyline points="628,1212 628,1287 556.6,1287 556.6,1363.4" fill="none" stroke="#2b2321" stroke-width="1.2" stroke-linejoin="miter" />
<line x1="219.8" y1="1025.8" x2="355.4" y2="1025.8" stroke="#5f5957" stroke-width="1.5" stroke-dasharray="20.5,3.2,1.6,5.2"/>
<line x1="219.2" y1="1027.5" x2="355.4" y2="1027.5" stroke="#2b2321" stroke-width="1.2" />
<line x1="280.8" y1="1034.4" x2="355.4" y2="1034.4" stroke="#2b2321" stroke-width="1.2" />
<rect x="355.2" y="1027.5" width="3.3" height="8" rx="0" fill="#ffffff" stroke="#2b2321" stroke-width="1" />
<line x1="281" y1="1038.5" x2="355" y2="1038.5" stroke="#5a5452" stroke-width="1.2" stroke-dasharray="4,2.5"/>
<line x1="281" y1="1042.7" x2="423.4" y2="1042.7" stroke="#5a5452" stroke-width="1.2" stroke-dasharray="4,2.5"/>
<line x1="281" y1="1046.9" x2="492" y2="1046.9" stroke="#5a5452" stroke-width="1.2" stroke-dasharray="4,2.5"/>
<rect x="354.9" y="1036.6" width="73.4" height="3.6" rx="0" fill="#ffffff" stroke="#2b2321" stroke-width="1.1" />
<rect x="423.4" y="1040.8" width="73.7" height="3.8" rx="0" fill="#ffffff" stroke="#2b2321" stroke-width="1.1" />
<rect x="492" y="1045.2" width="79.6" height="4.1" rx="0" fill="#ffffff" stroke="#2b2321" stroke-width="1.1" />
<rect x="570.2" y="1026.8" width="2.8" height="23.3" rx="0" fill="#ffffff" stroke="#2b2321" stroke-width="1.1" />
<line x1="573" y1="1027.2" x2="628" y2="1027.2" stroke="#2b2321" stroke-width="1.2" />
<line x1="573" y1="1048.7" x2="628" y2="1048.7" stroke="#2b2321" stroke-width="1.2" />
<text transform="translate(255.8,1021.8) scale(1.0453,1)" font-size="17.10" font-family="Liberation Serif" fill="#2b2321" stroke="#2b2321" stroke-width="0.2">Picture Rail</text>
<line x1="280.8" y1="1034.4" x2="280.8" y2="1174.2" stroke="#2b2321" stroke-width="1.2" />
<line x1="282.4" y1="1040" x2="282.4" y2="1172" stroke="#5f5957" stroke-width="1.5" stroke-dasharray="20.5,3.2,1.6,5.2"/>
<text transform="translate(297.5,1164) rotate(-90) translate(0,0) scale(0.9297,1)" font-size="18.71" font-family="Liberation Serif" fill="#2b2321" stroke="#2b2321" stroke-width="0.2">Picture Rail</text>
<path d="M219.3,1179.2 H275.1 L333.4,1237.1 V1364.3 H219.3 Z" fill="#ecdac7" stroke="#2b2321" stroke-width="1.2" />
<line x1="246.9" y1="1179.1" x2="246.9" y2="1364.3" stroke="#2b2321" stroke-width="1" stroke-dasharray="4,2.5"/>
<line x1="250.3" y1="1179.1" x2="250.3" y2="1364.3" stroke="#2b2321" stroke-width="1" stroke-dasharray="4,2.5"/>
<line x1="264.4" y1="1179.1" x2="264.4" y2="1364.3" stroke="#2b2321" stroke-width="1.1" />
<line x1="252" y1="1332.5" x2="334" y2="1332.5" stroke="#2b2321" stroke-width="1" stroke-dasharray="4,2.5"/>
<line x1="252" y1="1336.4" x2="334" y2="1336.4" stroke="#2b2321" stroke-width="1" stroke-dasharray="4,2.5"/>
<circle cx="248.5" cy="1334.3" r="3.2" fill="#ffffff" stroke="#2b2321" stroke-width="1"/>
<text transform="translate(273,1279.6) scale(0.9406,1)" font-size="22.60" font-family="Liberation Serif" fill="#2b2321" stroke="#2b2321" stroke-width="0.2">W.I.C</text>
<polyline points="280.5,1178.5 326.5,1224" fill="none" stroke="#2b2321" stroke-width="3.8" stroke-linejoin="miter" />
<polyline points="280.5,1178.5 326.5,1224" fill="none" stroke="#ffffff" stroke-width="2.0" stroke-linejoin="miter" />
<line x1="281.5" y1="1177" x2="327.4" y2="1134.2" stroke="#2b2321" stroke-width="1.1" />
<path d="M327.58,1134.03 A63,63 0 0 1 327.2,1220.37" fill="none" stroke="#2b2321" stroke-width="1.1" />
<rect x="-4" y="-1.6" width="8" height="3.2" rx="0.8" transform="translate(280.3,1179.6) rotate(-45)" fill="#ffffff" stroke="#2b2321" stroke-width="0.9"/>
<rect x="-4" y="-1.6" width="8" height="3.2" rx="0.8" transform="translate(325.6,1224.2) rotate(-45)" fill="#ffffff" stroke="#2b2321" stroke-width="0.9"/>
<polyline points="340.8,1364.3 340.8,1234.3 329.5,1224.5" fill="none" stroke="#2b2321" stroke-width="1.2" stroke-linejoin="miter" />
<line x1="212.4" y1="1364.3" x2="212.4" y2="1364.3" stroke="#2b2321" stroke-width="0" />
<line x1="340.5" y1="1364.3" x2="425.7" y2="1364.3" stroke="#2b2321" stroke-width="1.2" />
<text transform="translate(403,1181.7) scale(0.9754,1)" font-size="25.65" font-family="Liberation Serif" fill="#2b2321" stroke="#2b2321" stroke-width="0.2">Bed Room</text>
<path d="M423,1190.6 Q415.2,1202 423,1213.6" fill="none" stroke="#2b2321" stroke-width="1.3" />
<line x1="426.2" y1="1200.2" x2="445.2" y2="1200.2" stroke="#2b2321" stroke-width="1.5" />
<line x1="426.2" y1="1205.3" x2="445.2" y2="1205.3" stroke="#2b2321" stroke-width="1.5" />
<circle cx="430.9" cy="1195" r="1.8" fill="#2b2321"/>
<circle cx="440.6" cy="1209.8" r="1.8" fill="#2b2321"/>
<text transform="translate(449.6,1211.8) scale(0.9576,1)" font-size="25.34" font-family="Liberation Serif" fill="#2b2321" stroke="#2b2321" stroke-width="0.2">6.8J</text>
<path d="M491.3,1190.6 Q499.1,1202 491.3,1213.6" fill="none" stroke="#2b2321" stroke-width="1.3" />
<rect x="425.1" y="1363.4" width="128.7" height="27.4" rx="0" fill="#ffffff" stroke="#2b2321" stroke-width="1.2" />
<line x1="425.1" y1="1378.6" x2="553.8" y2="1378.6" stroke="#2b2321" stroke-width="1.1" />
<line x1="428.1" y1="1363.4" x2="428.1" y2="1378.6" stroke="#2b2321" stroke-width="0.9" />
<line x1="551" y1="1363.4" x2="551" y2="1378.6" stroke="#2b2321" stroke-width="0.9" />
<rect x="428.1" y="1370.4" width="64.5" height="2.6" rx="0" fill="#8f8987" stroke="#2b2321" stroke-width="0.9" />
<rect x="486.8" y="1374.6" width="64.2" height="3" rx="0" fill="#8f8987" stroke="#2b2321" stroke-width="0.9" />
<rect x="428.5" y="1370" width="5.5" height="3.6" rx="0.8" fill="#ececec" stroke="#2b2321" stroke-width="0.9" />
<rect x="486.8" y="1369.6" width="5.6" height="3.6" rx="0.8" fill="#ececec" stroke="#2b2321" stroke-width="0.9" />
<rect x="486.8" y="1374.2" width="5.6" height="3.6" rx="0.8" fill="#ececec" stroke="#2b2321" stroke-width="0.9" />
<rect x="545" y="1374.2" width="5.6" height="3.6" rx="0.8" fill="#ececec" stroke="#2b2321" stroke-width="0.9" />
<polyline points="616.3,461.8 779.5,461.8 779.5,1255.5 652.4,1255.5" fill="none" stroke="#2b2321" stroke-width="1.2" stroke-linejoin="miter" />
<polyline points="618.7,467.1 773.8,467.1 773.8,1249.8 654,1249.8 654,1242.7 766.6,1242.7 766.6,474.5 618.7,474.5 618.7,467.1" fill="none" stroke="#2b2321" stroke-width="1.2" stroke-linejoin="miter" />
<polyline points="616.3,479.8 761.2,479.8 761.2,1237.3 652.4,1237.3" fill="none" stroke="#2b2321" stroke-width="1.2" stroke-linejoin="miter" />
<line x1="751" y1="479.8" x2="751" y2="1237.3" stroke="#2b2321" stroke-width="1.2" />
<rect x="751" y="667.6" width="10.2" height="16.3" rx="0" fill="#ffffff" stroke="#2b2321" stroke-width="1" />
<line x1="751" y1="671.67" x2="761.2" y2="671.67" stroke="#2b2321" stroke-width="0.8" />
<line x1="751" y1="675.75" x2="761.2" y2="675.75" stroke="#2b2321" stroke-width="0.8" />
<line x1="751" y1="679.83" x2="761.2" y2="679.83" stroke="#2b2321" stroke-width="0.8" />
<rect x="751" y="1034" width="10.2" height="16.3" rx="0" fill="#ffffff" stroke="#2b2321" stroke-width="1" />
<line x1="751" y1="1038.08" x2="761.2" y2="1038.08" stroke="#2b2321" stroke-width="0.8" />
<line x1="751" y1="1042.15" x2="761.2" y2="1042.15" stroke="#2b2321" stroke-width="0.8" />
<line x1="751" y1="1046.22" x2="761.2" y2="1046.22" stroke="#2b2321" stroke-width="0.8" />
<line x1="731.6" y1="580.3" x2="764.3" y2="580.3" stroke="#2b2321" stroke-width="1.8" stroke-dasharray="4,3"/>
<line x1="731.6" y1="692" x2="764.3" y2="692" stroke="#2b2321" stroke-width="1.8" stroke-dasharray="4,3"/>
<text transform="translate(656.2,877.3) scale(1.0206,1)" font-size="24.58" font-family="Liberation Serif" fill="#2b2321" stroke="#2b2321" stroke-width="0.2">Balcony</text>
<text transform="translate(330.4,810.6) scale(1.0050,1)" font-size="25.04" font-family="Liberation Serif" fill="#2b2321" stroke="#2b2321" stroke-width="0.2">Living Dining</text>
<text transform="translate(363.2,840.7) scale(0.9906,1)" font-size="25.04" font-family="Liberation Serif" fill="#2b2321" stroke="#2b2321" stroke-width="0.2">Kitchen</text>
<path d="M361.7,850.5 Q353.9,862 361.7,873.4" fill="none" stroke="#2b2321" stroke-width="1.3" />
<line x1="365.5" y1="860.2" x2="384.8" y2="860.2" stroke="#2b2321" stroke-width="1.5" />
<line x1="365.5" y1="865.4" x2="384.8" y2="865.4" stroke="#2b2321" stroke-width="1.5" />
<circle cx="370.1" cy="854.9" r="1.8" fill="#2b2321"/>
<circle cx="379.7" cy="869.6" r="1.8" fill="#2b2321"/>
<text transform="translate(390.3,871.4) scale(0.9488,1)" font-size="24.43" font-family="Liberation Serif" fill="#2b2321" stroke="#2b2321" stroke-width="0.2">14.0J</text>
<path d="M442.3,850.5 Q450.1,862 442.3,873.4" fill="none" stroke="#2b2321" stroke-width="1.3" />
<g transform="translate(796.8,1358.9) rotate(4)">
<circle r="28.9" fill="none" stroke="#111" stroke-width="1.3"/>
<circle r="15.5" fill="none" stroke="#111" stroke-width="1.2"/>
<line x1="0" y1="0" x2="20.44" y2="20.44" stroke="#111" stroke-width="1.2"/>
<line x1="0" y1="0" x2="-20.44" y2="20.44" stroke="#111" stroke-width="1.2"/>
<line x1="0" y1="0" x2="-20.44" y2="-20.44" stroke="#111" stroke-width="1.2"/>
<line x1="0" y1="0" x2="20.44" y2="-20.44" stroke="#111" stroke-width="1.2"/>
<polygon points="0,0 -15.5,5 -47,0" fill="#fff" stroke="#111" stroke-width="1" stroke-linejoin="round"/>
<polygon points="0,0 -15.5,-5 -47,0" fill="#111" stroke="#111" stroke-width="0.8" stroke-linejoin="round"/>
<polygon points="0,0 15.5,5 47,0" fill="#fff" stroke="#111" stroke-width="1" stroke-linejoin="round"/>
<polygon points="0,0 15.5,-5 47,0" fill="#111" stroke="#111" stroke-width="0.8" stroke-linejoin="round"/>
<polygon points="0,0 -5,-15.5 0,-47" fill="#fff" stroke="#111" stroke-width="1" stroke-linejoin="round"/>
<polygon points="0,0 5,-15.5 0,-47" fill="#111" stroke="#111" stroke-width="0.8" stroke-linejoin="round"/>
<polygon points="0,0 -5,15.5 0,47" fill="#fff" stroke="#111" stroke-width="1" stroke-linejoin="round"/>
<polygon points="0,0 5,15.5 0,47" fill="#111" stroke="#111" stroke-width="0.8" stroke-linejoin="round"/>
</g>
<path d="M730.6,1346.8 L747.2,1347.9 L746.9,1351.6 L737.6,1356.9 L747.2,1358.6 L746.9,1362.9 L730.3,1361.8 L730.6,1358 L740.2,1352.7 L730.5,1351 Z" fill="#111"/>
<path d="M348.6,249.2 L349,251.2 M342.8,251.6 L354.4,251.6 M343.4,251.6 Q343.4,258 341.8,261.8 M345,254.6 L354,254.6 M349.5,252.6 L349.5,261.8 M349.3,255.2 Q347.5,258.5 344.8,260.4 M349.7,255.2 Q352,258.3 354.4,260 M362.6,249.6 Q361.5,252.5 359.6,254.2 M361.6,251.9 L367.6,251.9 Q366,257.5 359.8,261.2 M361.8,255.4 L365.2,257.6 M378.3,249.6 Q374,254 369,256.6 M374.5,253.2 L374.5,262 M382.6,250.6 Q382.8,256.5 379.4,259.6 M386.1,250.2 L386.1,258.6 Q389.5,257.5 392.3,254.2" fill="none" stroke="#2b2321" stroke-width="1.35" stroke-linecap="round" stroke-linejoin="round"/>
<circle cx="356.8" cy="255" r="0.95" fill="#2b2321"/>
<circle cx="356.8" cy="259.9" r="0.95" fill="#2b2321"/>
<text transform="translate(347.3,275.14) scale(1.0000,1)" font-size="14.88" font-family="Liberation Serif" fill="#2b2321" stroke="#2b2321" stroke-width="0.2">(</text>
<text transform="translate(352.8,276) scale(0.8956,1)" font-size="14.96" font-family="Liberation Serif" fill="#2b2321" stroke="#2b2321" stroke-width="0.2">4</text>
<circle cx="361.7" cy="271" r="1.2" fill="#2b2321"/>
<text transform="translate(364.6,276) scale(0.8822,1)" font-size="14.96" font-family="Liberation Serif" fill="#2b2321" stroke="#2b2321" stroke-width="0.2">7</text>
<text transform="translate(372.2,276) scale(0.9393,1)" font-size="14.96" font-family="Liberation Serif" fill="#2b2321" stroke="#2b2321" stroke-width="0.2">F</text>
<text transform="translate(381.6,275.14) scale(1.0000,1)" font-size="14.88" font-family="Liberation Serif" fill="#2b2321" stroke="#2b2321" stroke-width="0.2">)</text>
<rect x="1" y="1" width="978" height="1458" fill="none" stroke="#cccccc" stroke-width="2"/>
</svg>
</body></html>
